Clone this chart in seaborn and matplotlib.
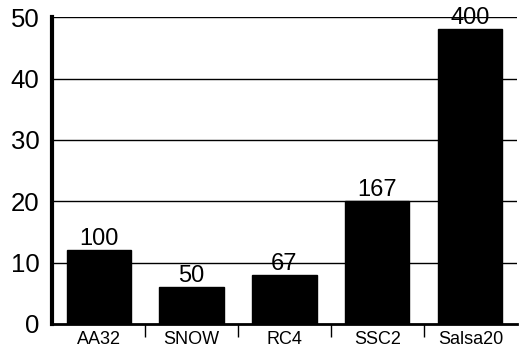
import matplotlib
matplotlib.use("Agg")
import matplotlib.pyplot as plt
import numpy as np
import pandas as pd
import seaborn as sns

ciphers = ["AA32", "SNOW", "RC4", "SSC2", "Salsa20"]
heights = [12, 6, 8, 20, 48]
bar_labels = ["100", "50", "67", "167", "400"]
y_ticks = [0, 10, 20, 30, 40, 50]

sns.set_style("white")
plt.rcParams["font.family"] = ["Liberation Sans", "DejaVu Sans"]
plt.rcParams["text.color"] = "black"
plt.rcParams["xtick.color"] = "black"
plt.rcParams["ytick.color"] = "black"

df = pd.DataFrame({"cipher": ciphers, "value": heights})

fig = plt.figure(figsize=(5.21, 3.58), dpi=100)
ax = fig.add_axes([0.1, 0.095, 0.892, 0.857])

ax.set_axisbelow(True)
for t in y_ticks[1:]:
    ax.axhline(t, color="black", lw=1.0, zorder=0)

sns.barplot(data=df, x="cipher", y="value", color="black", width=0.69,
            saturation=1, ax=ax, zorder=2)
for p in ax.patches:
    p.set_edgecolor("black")

ax.bar_label(ax.containers[0], labels=bar_labels, fontsize=17, padding=0,
             color="black")

ax.set_ylim(0, 50)
ax.set_xlim(-0.5, 4.5)
ax.set_yticks(y_ticks)
ax.tick_params(axis="y", length=0, labelsize=18.5, pad=9, labelcolor="black")
ax.tick_params(axis="x", which="major", length=0, labelsize=13, pad=5,
               labelcolor="black")
ax.set_xticks(np.arange(0.5, 4.5, 1.0), minor=True)
ax.tick_params(axis="x", which="minor", bottom=True, length=9, width=1,
               direction="out", color="black")
ax.set_xlabel("")
ax.set_ylabel("")

for side in ["top", "right"]:
    ax.spines[side].set_visible(False)
ax.spines["left"].set_linewidth(3)
ax.spines["bottom"].set_linewidth(2)
ax.spines["left"].set_color("black")
ax.spines["bottom"].set_color("black")

fig.savefig("out.png", dpi=100)
